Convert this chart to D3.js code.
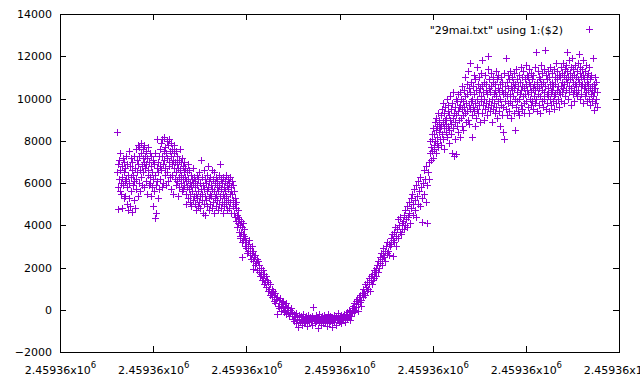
<!DOCTYPE html>
<html><head><meta charset="utf-8">
<script src="https://cdn.jsdelivr.net/npm/d3@7"></script>
<style>body{margin:0;background:#fff}svg{display:block}</style>
</head><body><svg id="c" width="640" height="384"></svg>
<script>
// x = minutes after JD 2459363.5, y = flux ($2)
const jdBase = 2459363.5;
const xTickMinutes = [0, 72, 144, 216, 288, 360, 432];
const yTickValues = [-2000, 0, 2000, 4000, 6000, 8000, 10000, 12000, 14000];
const seriesLabel = '"29mai.txt" using 1:($2)';
const obs = [
[44.0,8400],[44.3,6500],[44.6,5800],[44.9,4750],[45.2,6900],[45.5,6200],[45.8,7100],[46.1,5600],[46.4,6600],[46.7,7400],
[47.0,6000],[47.3,5500],[47.6,6800],[47.9,6300],[48.2,4800],[48.5,7200],[48.8,5900],[49.1,6500],[49.4,5300],[49.7,7000],
[50.0,6100],[50.3,6700],[50.6,5400],[50.9,7300],[51.2,6200],[51.5,5000],[51.8,6900],[52.1,5800],[52.4,4700],[52.7,6400],
[53.0,7500],[53.3,6000],[53.6,5300],[53.9,6800],[54.2,4900],[54.5,6300],[54.8,7200],[55.1,5600],[55.4,6600],[55.7,4650],
[56.0,7000],[56.3,5900],[56.6,6400],[56.9,5200],[57.2,7300],[57.5,6100],[57.8,4800],[58.1,6700],[58.4,7600],[58.7,6200],
[59.0,5700],[59.3,7100],[59.6,6500],[59.9,7800],[60.2,5400],[60.5,6900],[60.8,7300],[61.1,6000],[61.4,7700],[61.7,6600],
[62.0,5600],[62.3,7400],[62.6,6300],[62.9,7900],[63.2,6800],[63.5,5900],[63.8,7200],[64.1,7600],[64.4,6500],[64.7,7000],
[65.0,5800],[65.3,7800],[65.6,6700],[65.9,7300],[66.2,6100],[66.5,7500],[66.8,6900],[67.1,5500],[67.4,7200],[67.7,6400],
[68.0,7700],[68.3,6600],[68.6,5900],[68.9,7000],[69.2,6300],[69.5,7400],[69.8,6000],[70.1,5400],[70.4,6800],[70.7,7300],
[71.0,5800],[71.3,6500],[71.6,4900],[71.9,7100],[72.2,6200],[72.5,5600],[72.8,6900],[73.1,4350],[73.4,6400],[73.7,7400],
[74.0,5900],[74.3,4600],[74.6,6700],[74.9,8100],[75.2,6100],[75.5,5300],[75.8,7000],[76.1,6500],[76.4,5700],[76.7,7300],
[77.0,6800],[77.3,7600],[77.6,6200],[77.9,7900],[78.2,6600],[78.5,5800],[78.8,7300],[79.1,8100],[79.4,6900],[79.7,6000],
[80.0,7500],[80.3,7100],[80.6,8200],[80.9,6400],[81.2,7700],[81.5,6700],[81.8,5900],[82.1,7400],[82.4,8000],[82.7,6500],
[83.0,7200],[83.3,7800],[83.6,6100],[83.9,7000],[84.2,8100],[84.5,6800],[84.8,7500],[85.1,6300],[85.4,7900],[85.7,5700],
[86.0,7300],[86.3,6900],[86.6,7600],[86.9,6400],[87.2,7100],[87.5,5500],[87.8,7400],[88.1,6700],[88.4,7800],[88.7,6200],
[89.0,7000],[89.3,6500],[89.6,7500],[89.9,5900],[90.2,6900],[90.5,7300],[90.8,6100],[91.1,5400],[91.4,6700],[91.7,7100],
[92.0,6300],[92.3,5800],[92.6,7600],[92.9,6600],[93.2,6000],[93.5,7000],[93.8,6400],[94.1,5600],[94.4,7200],[94.7,6200],
[95.0,6800],[95.3,5700],[95.6,6500],[95.9,7000],[96.2,5900],[96.5,6300],[96.8,6700],[97.1,5500],[97.4,6100],[97.7,5000],
[98.0,6500],[98.3,5800],[98.6,6900],[98.9,5300],[99.2,6200],[99.5,5700],[99.8,6600],[100.1,5100],[100.4,6000],[100.7,5500],
[101.0,6400],[101.3,5900],[101.6,4900],[101.9,6200],[102.2,5600],[102.5,6700],[102.8,5200],[103.1,6000],[103.4,5400],[103.7,6300],
[104.0,5800],[104.3,5000],[104.6,6100],[104.9,5500],[105.2,4700],[105.5,6400],[105.8,5300],[106.1,5900],[106.4,4900],[106.7,6200],
[107.0,5600],[107.3,5100],[107.6,6500],[107.9,5400],[108.2,4800],[108.5,6000],[108.8,5700],[109.1,7100],[109.4,5200],[109.7,6300],
[110.0,5500],[110.3,4600],[110.6,5900],[110.9,6600],[111.2,5000],[111.5,5700],[111.8,6200],[112.1,4500],[112.4,5400],[112.7,6000],
[113.0,5200],[113.3,6400],[113.6,5600],[113.9,4900],[114.2,5800],[114.5,6800],[114.8,5300],[115.1,6100],[115.4,4700],[115.7,5500],
[116.0,6300],[116.3,5000],[116.6,5900],[116.9,5400],[117.2,6600],[117.5,4800],[117.8,5700],[118.1,6200],[118.4,5100],[118.7,5600],
[119.0,6500],[119.3,4600],[119.6,5300],[119.9,6000],[120.2,5500],[120.5,4900],[120.8,6300],[121.1,5800],[121.4,5200],[121.7,6100],
[122.0,4700],[122.3,5600],[122.6,6400],[122.9,5000],[123.2,5900],[123.5,6900],[123.8,5400],[124.1,4800],[124.4,6200],[124.7,5700],
[125.0,5100],[125.3,6000],[125.6,4600],[125.9,5500],[126.2,6300],[126.5,5300],[126.8,5800],[127.1,4900],[127.4,6100],[127.7,5600],
[128.0,5000],[128.3,6400],[128.6,5400],[128.9,4700],[129.2,5900],[129.5,6200],[129.8,5200],[130.1,5700],[130.4,4800],[130.7,6000],
[131.0,5500],[131.3,6300],[131.6,5100],[131.9,5800],[132.2,4600],[132.5,5600],[132.8,6100],[133.1,5500],[133.4,4900],[133.7,5900],
[134.0,5200],[134.3,4600],[134.6,5600],[134.9,5000],[135.2,4400],[135.5,5300],[135.8,4800],[136.1,4200],[136.4,5100],[136.7,4500],
[137.0,3900],[137.3,4700],[137.6,4100],[137.9,4400],[138.2,3700],[138.5,4300],[138.8,3500],[139.1,4000],[139.4,3400],[139.7,4200],
[140.0,3700],[140.3,3200],[140.6,3900],[140.9,2500],[141.2,3600],[141.5,4100],[141.8,3300],[142.1,3800],[142.4,3500],[142.7,3000],
[143.0,3400],[143.5,2900],[144.0,3200],[144.5,2700],[145.0,3100],[145.5,2800],[146.0,3300],[146.5,2600],[147.0,2900],[147.5,2400],
[148.0,3000],[148.5,2700],[148.8,1950],[149.0,2300],[149.5,2800],[150.0,2500],[150.5,2100],[151.0,2600],[151.5,2200],[152.0,2400],
[152.5,1900],[153.0,2300],[153.5,1800],[154.0,2100],[154.5,1600],[155.0,2000],[155.5,1700],[156.0,1400],[156.5,1900],[157.0,1500],
[157.5,1200],[158.0,1700],[158.5,1300],[159.0,1600],[159.5,1100],[160.0,1400],[160.5,900],[161.0,1300],[161.5,1000],[162.0,700],
[162.5,1200],[163.0,800],[163.5,1000],[164.0,600],[164.5,900],[165.0,400],[165.5,700],[166.0,300],[166.5,800],[167.0,500],
[167.5,-200],[168.0,600],[168.5,200],[169.0,450],[169.5,100],[170.0,550],[170.5,250],[171.0,-50],[171.5,350],[172.0,150],
[172.5,400],[173.0,-100],[173.5,200],[174.0,0],[174.5,300],[175.0,-200],[175.5,100],[176.0,-100],[176.5,150],[177.0,-300],
[177.5,0],[178.0,-150],[178.5,100],[179.0,-300],[179.5,-100],[180.0,-450],[180.5,-200],[181.0,-550],[181.5,-300],[182.0,-150],
[182.5,-650],[183.0,-350],[183.5,-500],[184.0,-800],[184.5,-250],[185.0,-450],[185.5,-600],[186.0,-300],[186.5,-500],[187.0,-700],
[187.5,-350],[188.0,-200],[188.5,-550],[189.0,-400],[189.5,-650],[190.0,-300],[190.5,-500],[191.0,-750],[191.5,-400],[192.0,-250],
[192.5,-600],[193.0,-450],[193.5,-350],[194.0,-550],[194.5,-700],[195.0,-300],[195.5,150],[196.0,-500],[196.5,-400],[197.0,-650],
[197.5,-250],[198.0,-550],[198.5,-450],[199.0,-850],[199.5,-350],[200.0,-600],[200.5,-200],[201.0,-500],[201.5,-700],[202.0,-400],
[202.5,-300],[203.0,-550],[203.5,-650],[204.0,-250],[204.5,-450],[205.0,-600],[205.5,-350],[206.0,-750],[206.5,-500],[207.0,-200],
[207.5,-400],[208.0,-650],[208.5,-300],[209.0,-550],[209.5,-450],[210.0,-800],[210.5,-350],[211.0,-500],[211.5,-250],[212.0,-600],
[212.5,-400],[213.0,-700],[213.5,-300],[214.0,-500],[214.5,-150],[215.0,-450],[215.5,-600],[216.0,-350],[216.5,-550],[217.0,-250],
[217.5,-650],[218.0,-400],[218.5,-300],[219.0,-500],[219.5,-200],[220.0,-400],[220.5,-600],[221.0,-200],[221.5,-450],[222.0,-100],
[222.5,-350],[223.0,0],[223.5,-250],[224.0,-500],[224.5,-50],[225.0,-300],[225.5,100],[226.0,-150],[226.5,200],[227.0,-100],
[227.5,300],[228.0,0],[228.5,400],[229.0,150],[229.5,500],[230.0,250],[230.5,-50],[231.0,600],[231.5,350],[232.0,700],
[232.5,450],[233.0,200],[233.5,800],[234.0,600],[234.5,1000],[235.0,800],[235.5,1200],[236.0,700],[236.5,1100],[237.0,900],
[237.5,1300],[238.0,1000],[238.5,1500],[239.0,1200],[239.5,900],[240.0,1400],[240.5,1600],[241.0,1200],[241.5,1700],[242.0,1400],
[242.5,1900],[243.0,1500],[243.5,1800],[244.0,2000],[244.5,1600],[245.0,2100],[245.5,1800],[246.0,2300],[246.5,2000],[247.0,2500],
[247.5,2200],[248.0,2700],[248.5,2400],[249.0,2100],[249.5,2600],[250.0,2900],[250.5,2500],[251.0,2800],[251.5,2300],[252.0,3000],
[252.5,2700],[253.0,3200],[253.5,2800],[254.0,3100],[254.5,2600],[255.0,3000],[255.5,3400],[256.0,3100],[256.5,3600],[257.0,3300],
[257.5,2550],[258.0,3700],[258.5,3200],[259.0,3900],[259.5,3500],[260.0,3000],[260.5,3800],[261.0,4300],[261.5,3400],[262.0,4000],
[262.5,3700],[263.0,4400],[263.5,3600],[264.0,4100],[264.5,3800],[265.0,4200],[265.5,3800],[266.0,4500],[266.5,4000],[267.0,4700],
[267.5,4300],[268.0,3900],[268.5,4900],[269.0,4400],[269.5,5100],[270.0,4600],[270.5,4100],[271.0,5300],[271.5,4800],[272.0,5500],
[272.5,4500],[273.0,5000],[273.5,5700],[274.0,4700],[274.5,5200],[275.0,5900],[275.5,4400],[276.0,5400],[276.5,6100],[277.0,5000],
[277.5,5600],[278.0,6300],[278.5,4900],[279.0,5800],[279.5,4150],[280.0,5300],[280.5,6000],[281.0,6600],[281.5,5500],[282.0,6200],
[282.5,5100],[283.0,6800],[283.5,4100],[284.0,5900],[284.5,6500],[285.0,7000],[285.5,6200],[286.0,7400],[286.3,8000],[286.6,7100],
[286.9,7700],[287.2,8300],[287.5,7500],[287.8,8100],[288.1,7200],[288.4,8600],[288.7,7800],[289.0,8300],[289.3,7600],[289.6,8900],
[289.9,8000],[290.2,7400],[290.5,8500],[290.8,9100],[291.1,7900],[291.4,8700],[291.7,8200],[292.0,9300],[292.3,7700],[292.6,8800],
[292.9,8400],[293.2,9000],[293.5,8100],[293.8,8600],[294.1,9200],[294.4,7800],[294.7,8700],[295.0,9500],[295.3,8300],[295.6,8900],
[295.9,9800],[296.2,8100],[296.5,9300],[296.8,8600],[297.1,7600],[297.4,9000],[297.7,9600],[298.0,8400],[298.3,9100],[298.6,8800],
[298.9,10000],[299.2,8200],[299.5,9400],[299.8,8700],[300.1,9700],[300.4,7900],[300.7,9200],[301.0,8500],[301.3,10100],[301.6,9000],
[301.9,8300],[302.2,9500],[302.5,8800],[302.8,7400],[303.1,9800],[303.4,9100],[303.7,8600],[304.0,10300],[304.3,9300],[304.6,7300],
[304.9,8900],[305.2,9600],[305.5,8100],[305.8,10000],[306.1,9200],[306.4,7350],[306.7,8700],[307.0,9900],[307.3,9400],[307.6,8400],
[307.9,10200],[308.2,9000],[308.5,9600],[308.8,8200],[309.1,9700],[309.4,10300],[309.7,9100],[310.0,10000],[310.3,8700],[310.6,9500],
[310.9,10600],[311.2,9200],[311.5,9900],[311.8,8500],[312.1,10400],[312.4,9600],[312.7,11000],[313.0,9300],[313.3,10100],[313.6,8900],
[313.9,9800],[314.2,10700],[314.5,9400],[314.8,10200],[315.1,9000],[315.4,11300],[315.7,9700],[316.0,10500],[316.3,8800],[316.6,11700],
[316.9,9500],[317.2,10300],[317.5,9900],[317.8,10800],[318.1,9200],[318.4,10000],[318.7,8200],[319.0,10600],[319.3,9600],[319.6,11100],
[319.9,9400],[320.2,10200],[320.5,8700],[320.8,10900],[321.1,9800],[321.4,10400],[321.7,9100],[322.0,11500],[322.3,10000],[322.6,9500],
[322.9,10700],[323.2,9300],[323.5,10300],[323.8,11000],[324.1,9700],[324.4,8900],[324.7,10500],[325.0,9900],[325.3,11200],[325.6,10100],
[325.9,9300],[326.2,11800],[326.5,10600],[326.8,9700],[327.1,10300],[327.4,9000],[327.7,10800],[328.0,10000],[328.3,9500],[328.6,11100],
[328.9,10400],[329.2,9800],[329.5,10700],[329.8,9200],[330.1,10200],[330.4,11400],[330.7,9600],[331.0,12000],[331.3,10500],[331.6,9900],
[331.9,10900],[332.2,9400],[332.5,10300],[332.8,11200],[333.1,9700],[333.4,10600],[333.7,10000],[334.0,8900],[334.3,10800],[334.6,9500],
[334.9,11000],[335.2,10200],[335.5,9800],[335.8,10700],[336.1,9300],[336.4,10400],[336.7,11300],[337.0,9600],[337.3,10100],[337.6,10900],
[337.9,9100],[338.2,10500],[338.5,9900],[338.8,11100],[339.1,10300],[339.4,9400],[339.7,10700],[340.0,8700],[340.3,10000],[340.6,11000],
[340.9,9700],[341.2,10400],[341.5,9200],[341.8,10800],[342.1,8400],[342.4,10200],[342.7,9600],[343.0,11200],[343.3,8100],[343.6,10600],
[343.9,9900],[344.2,10300],[344.5,11900],[344.8,9500],[345.1,10800],[345.4,10100],[345.7,9200],[346.0,11100],[346.3,10500],[346.6,9800],
[346.9,10900],[347.2,9400],[347.5,10200],[347.8,11300],[348.1,9900],[348.4,10600],[348.7,9100],[349.0,10400],[349.3,11000],[349.6,9700],
[349.9,10100],[350.2,10800],[350.5,9300],[350.8,10500],[351.1,11200],[351.4,8500],[351.7,10000],[352.0,10700],[352.3,9600],[352.6,11400],
[352.9,10300],[353.2,9900],[353.5,10900],[353.8,9400],[354.1,10600],[354.4,11100],[354.7,10000],[355.0,9200],[355.3,10800],[355.6,10200],
[355.9,11500],[356.2,9700],[356.5,10400],[356.8,11000],[357.1,9500],[357.4,10600],[357.7,10100],[358.0,11300],[358.3,9800],[358.6,10500],
[358.9,9300],[359.2,10900],[359.5,10200],[359.8,11600],[360.1,9900],[360.4,10700],[360.7,11100],[361.0,10400],[361.3,9600],[361.6,11000],
[361.9,10200],[362.2,9300],[362.5,10800],[362.8,11400],[363.1,10000],[363.4,10600],[363.7,9700],[364.0,11200],[364.3,10300],[364.6,9900],
[364.9,10900],[365.2,10500],[365.5,9500],[365.8,11100],[366.1,10100],[366.4,10700],[366.7,9800],[367.0,11500],[367.3,10400],[367.7,12200],
[368.0,10000],[368.3,10800],[368.6,9400],[368.9,10600],[369.2,11300],[369.5,10200],[369.8,9700],[370.1,11000],[370.4,10500],[370.7,9300],
[371.0,10900],[371.3,10100],[371.6,11600],[371.9,10700],[372.2,9900],[372.5,10400],[372.8,11200],[373.1,9600],[373.4,10800],[373.7,10300],
[374.0,11400],[374.3,10000],[374.8,12300],[375.1,10600],[375.4,9500],[375.7,11100],[376.0,10200],[376.3,10900],[376.6,9800],[376.9,11300],
[377.2,10500],[377.5,10100],[377.8,9400],[378.1,11000],[378.4,10700],[378.7,10000],[379.0,11500],[379.3,10300],[379.6,9700],[379.9,10800],
[380.2,11200],[380.5,10400],[380.8,9900],[381.1,10600],[381.4,11400],[381.7,10100],[382.0,9500],[382.3,11000],[382.6,10700],[382.9,10200],
[383.2,11700],[383.5,9800],[383.8,10900],[384.1,10400],[384.4,11300],[384.7,10000],[385.0,10600],[385.3,9600],[385.6,11100],[385.9,10300],
[386.2,11000],[386.5,10200],[386.8,11500],[387.1,10600],[387.4,9900],[387.7,11200],[388.0,10800],[388.3,10300],[388.6,11700],[388.9,10500],
[389.2,9800],[389.5,11100],[389.8,10700],[390.1,11400],[390.4,10100],[390.7,10900],[391.0,11600],[391.3,10400],[391.6,12200],[391.9,10800],
[392.2,11300],[392.5,10000],[392.8,11000],[393.1,10600],[393.4,11800],[393.7,10300],[394.0,11200],[394.3,10900],[394.6,9700],[394.9,11500],
[395.2,10500],[395.5,11000],[395.8,11900],[396.1,10200],[396.4,10800],[396.7,11400],[397.0,10400],[397.3,11100],[397.6,9900],[397.9,10700],
[398.2,11600],[398.5,10300],[398.8,11000],[399.1,10600],[399.4,11300],[399.7,10100],[400.0,10900],[400.3,11700],[400.6,10400],[400.9,12100],
[401.2,10800],[401.5,11200],[401.8,10000],[402.1,11500],[402.4,10600],[402.7,11000],[403.0,10200],[403.3,11400],[403.6,10700],[403.9,9800],
[404.2,11100],[404.5,11800],[404.8,10500],[405.1,10900],[405.4,10100],[405.7,11300],[406.0,10600],[406.3,11600],[406.6,10300],[406.9,10800],
[407.2,9900],[407.5,11000],[407.8,10400],[408.1,11200],[408.4,10700],[408.7,10000],[409.0,11500],[409.3,10500],[409.6,9700],[409.9,10900],
[410.2,10200],[410.5,11100],[410.8,10600],[411.1,9900],[411.4,10400],[411.7,11900],[412.0,10100],[412.3,10700],[412.6,9450],[412.9,10300],
[413.2,11000],[413.5,9800],[413.8,10500],[414.1,10000],[414.4,10800],[414.7,9600],[415.0,10300]
];

const W = 640, H = 384;
const color = '#9400d3';
const font = '"DejaVu Sans", Verdana, sans-serif';
const svg = d3.select('#c');
svg.append('rect').attr('width', W).attr('height', H).attr('fill', '#fff');

const x = d3.scaleLinear().domain([0, 432]).range([60, 619]);
const y = d3.scaleLinear().domain([-2000, 14000]).range([352, 14]);

function styleAxis(g) {
  g.select('.domain').remove();
  g.selectAll('line').attr('stroke', '#000').attr('shape-rendering', 'crispEdges');
  g.selectAll('text').attr('fill', '#000').style('font-family', font).style('font-size', '11px');
}

// bottom axis with labels
const gx = svg.append('g').attr('transform', 'translate(0,352)')
  .call(d3.axisBottom(x).tickValues(xTickMinutes).tickSizeInner(-6).tickSizeOuter(0).tickPadding(14))
  .call(styleAxis);
gx.selectAll('.tick text').each(function(d) {
  const jd = jdBase + d / 1440;
  const parts = jd.toExponential(5).split('e');
  const mant = parts[0], exp = String(+parts[1]);
  const t = d3.select(this).text(null).attr('dy', '0.71em');
  t.append('tspan').text(mant + 'x10');
  t.append('tspan').attr('dy', '-6').style('font-size', '8.5px').text(exp);
});
// top mirror ticks
svg.append('g').attr('transform', 'translate(0,14)')
  .call(d3.axisTop(x).tickValues(xTickMinutes).tickSizeInner(-6).tickSizeOuter(0).tickFormat(''))
  .call(styleAxis);
// left axis with labels
svg.append('g').attr('transform', 'translate(60,0)')
  .call(d3.axisLeft(y).tickValues(yTickValues).tickSizeInner(-6).tickSizeOuter(0).tickPadding(8).tickFormat(d3.format('d')))
  .call(styleAxis);
// right mirror ticks
svg.append('g').attr('transform', 'translate(619,0)')
  .call(d3.axisRight(y).tickValues(yTickValues).tickSizeInner(-6).tickSizeOuter(0).tickFormat(''))
  .call(styleAxis);

// frame
svg.append('rect').attr('x', 60.5).attr('y', 14.5).attr('width', 559).attr('height', 338)
  .attr('fill', 'none').attr('stroke', '#000').attr('stroke-width', 1).attr('shape-rendering', 'crispEdges');

// points
function plus(px, py) {
  const cx = Math.round(px) + 0.5, cy = Math.round(py) + 0.5;
  return `M${cx - 3.5},${cy}H${cx + 3.5}M${cx},${cy - 3.5}V${cy + 3.5}`;
}
svg.append('g').selectAll('path').data(obs).join('path')
  .attr('d', d => plus(x(d[0]), y(d[1])))
  .attr('fill', 'none').attr('stroke', color).attr('stroke-width', 1);

// legend
svg.append('text').attr('x', 563).attr('y', 34).attr('text-anchor', 'end')
  .style('font-family', font).style('font-size', '11px').attr('fill', '#000').text(seriesLabel);
svg.append('path').attr('d', plus(589, 29)).attr('fill', 'none').attr('stroke', color);
</script>
</body></html>
